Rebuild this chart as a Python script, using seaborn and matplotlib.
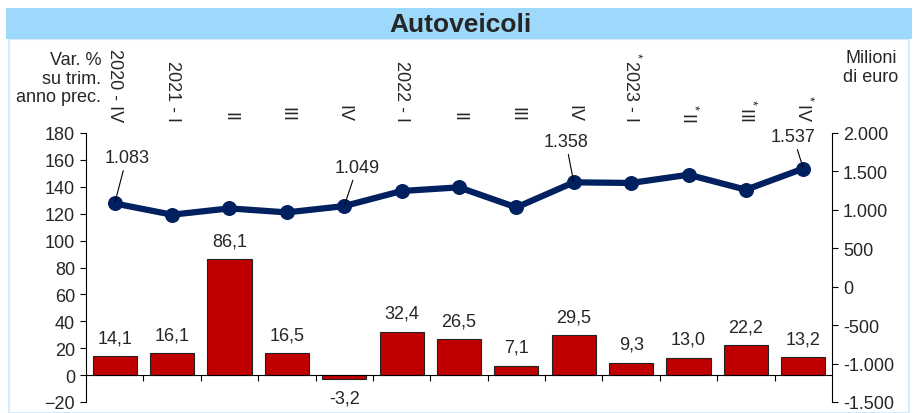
import matplotlib
matplotlib.use("Agg")
import matplotlib.pyplot as plt
from matplotlib.patches import Rectangle
from matplotlib.ticker import FuncFormatter, FixedLocator
import numpy as np
import pandas as pd
import seaborn as sns

quarters = ["2020 - IV", "2021 - I", "II", "III", "IV", "2022 - I", "II", "III", "IV",
            "$^*$2023 - I", "$^*$II", "$^*$III", "$^*$IV"]
var_pct = [14.1, 16.1, 86.1, 16.5, -3.2, 32.4, 26.5, 7.1, 29.5, 9.3, 13.0, 22.2, 13.2]
mln_euro = [1083, 937, 1019, 967, 1049, 1245, 1293, 1032, 1358, 1350, 1457, 1262, 1537]
labelled = {0: "1.083", 4: "1.049", 8: "1.358", 12: "1.537"}

BAR_RED = "#C00000"
NAVY = "#002060"
FS = 13

sns.set_theme(style="white")
plt.rcParams["font.family"] = ["Liberation Sans", "DejaVu Sans"]
plt.rcParams["mathtext.fontset"] = "custom"
plt.rcParams["mathtext.rm"] = "Liberation Sans"

df = pd.DataFrame({"pos": np.arange(len(quarters)), "var": var_pct, "mln": mln_euro})

fig = plt.figure(figsize=(9.15, 4.14), dpi=100)
W, H = 915, 414

# title band and light frame
fig.patches.append(Rectangle((9 / W, 0), 900 / W, 1 - 40 / H, transform=fig.transFigure,
                             fill=False, edgecolor="#d6ecfb", lw=1.5))
fig.patches.append(Rectangle((6 / W, 1 - 40 / H), 906 / W, 31 / H, transform=fig.transFigure,
                             facecolor="#9ed9fc", edgecolor="none"))
fig.text(460 / W, 1 - 24.5 / H, "Autoveicoli", ha="center", va="center",
         fontsize=19, fontweight="bold")

ax = fig.add_axes([86 / W, 1 - 403 / H, 746 / W, 269 / H])
ax.bar(df["pos"], df["var"], width=0.77, color=BAR_RED, edgecolor="#222222", linewidth=0.8, zorder=2)
ax.set_xlim(-0.5, len(quarters) - 0.5)
ax.set_ylim(-20, 180)
ax.set_yticks(range(-20, 181, 20))

for s in ["top", "right"]:
    ax.spines[s].set_visible(False)
ax.spines["bottom"].set_position(("data", 0))
for s in ["left", "bottom"]:
    ax.spines[s].set_color("black")
    ax.spines[s].set_linewidth(0.8)

# category labels on top, boundary ticks on the zero line
ax.set_xticks(df["pos"])
ax.set_xticklabels(quarters, rotation=-90)
ax.xaxis.set_minor_locator(FixedLocator(np.arange(0.5, len(quarters) - 1, 1)))
ax.tick_params(axis="x", which="major", bottom=False, top=False, length=0, labelbottom=False,
               labeltop=True, pad=8.5, labelsize=FS)
ax.tick_params(axis="x", which="minor", bottom=True, direction="out", length=4, width=0.8,
               color="black")
for t in ax.get_xticklabels():
    t.set_va("bottom")
ax.tick_params(axis="y", left=True, direction="out", length=4, width=0.8, color="black",
               labelsize=FS, pad=4)

labels = [f"{v:.1f}".replace(".", ",") for v in var_pct]
ax.bar_label(ax.containers[0], labels=labels, padding=7, fontsize=FS)

ax2 = ax.twinx()
sns.lineplot(data=df, x="pos", y="mln", ax=ax2, color=NAVY, linewidth=4.5, marker="o",
             markersize=10, markeredgecolor=NAVY, zorder=3)
ax2.set_ylim(-1500, 2000)
ax2.set_yticks(range(-1500, 2001, 500))
ax2.yaxis.set_major_formatter(FuncFormatter(lambda v, p: f"{int(v):,}".replace(",", ".")))
ax2.set_ylabel("")
ax2.set_xlabel("")
for s in ["top", "left", "bottom"]:
    ax2.spines[s].set_visible(False)
ax2.spines["right"].set_color("black")
ax2.spines["right"].set_linewidth(0.8)
ax2.tick_params(axis="y", right=True, direction="out", length=4, width=0.8, color="black",
                labelsize=FS, pad=4)
ax2.set_xlim(ax.get_xlim())

# value labels of the line with leader lines
offsets = {0: (12, 46), 4: (13, 39), 8: (-8, 41), 12: (-10, 32)}
for i, txt in labelled.items():
    ax2.annotate(txt, xy=(i, mln_euro[i]), xytext=offsets[i], textcoords="offset pixels",
                 ha="center", va="center", fontsize=FS, zorder=5,
                 arrowprops=dict(arrowstyle="-", color="black", lw=0.8, shrinkA=1, shrinkB=1))

fig.text(101 / W, 1 - 79 / H, "Var. %\nsu trim.\nanno prec.", ha="right", va="center",
         fontsize=FS, linespacing=1.1)
fig.text(871 / W, 1 - 68 / H, "Milioni\ndi euro", ha="center", va="center",
         fontsize=FS, linespacing=1.1)

fig.savefig("out.png", dpi=100)
